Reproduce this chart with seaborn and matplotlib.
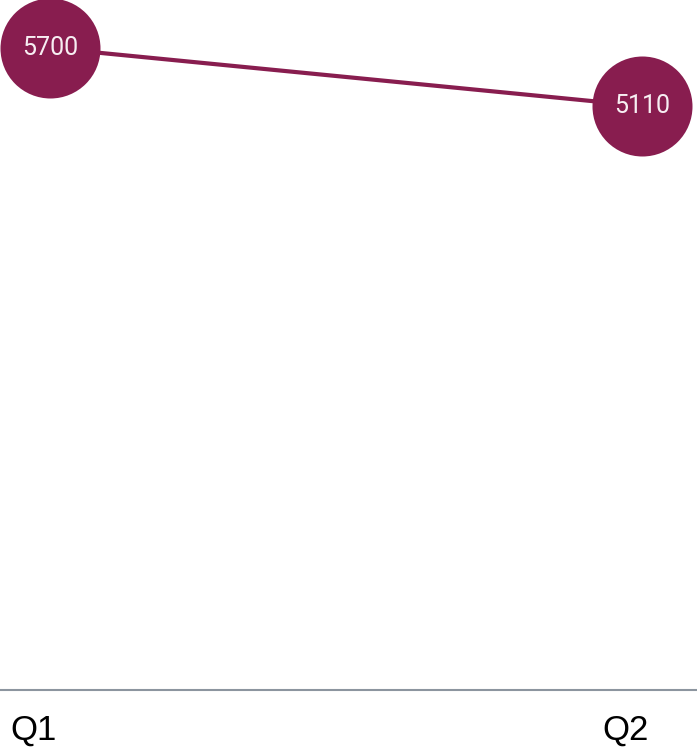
import matplotlib.pyplot as plt
import matplotlib.transforms as mtransforms
import seaborn as sns
import pandas as pd

# chart data
quarters = ['Q1', 'Q2']
values = [5700, 5110]

df = pd.DataFrame({'x': range(len(quarters)), 'value': values})

sns.set_style('white')
plt.rcParams['font.family'] = ['Liberation Sans', 'DejaVu Sans']

color = '#881d4f'

fig = plt.figure(figsize=(6.97, 7.5), dpi=100)
ax = fig.add_axes([0, 0.08, 1, 0.92])

sns.lineplot(data=df, x='x', y='value', color=color, linewidth=3, ax=ax, zorder=2)
sns.scatterplot(data=df, x='x', y='value', color=color, s=72 ** 2, linewidth=0,
                ax=ax, zorder=3, clip_on=False)

for x, v in zip(df['x'], df['value']):
    ax.text(x, v, str(v), ha='center', va='center', color='#f7eef2',
            fontsize=18, family=['Roboto', 'DejaVu Sans'], zorder=4)

ax.set_xlim(-0.0845, 1.093)
ax.set_ylim(-831, 6188)

ax.set_xticks(df['x'])
ax.set_xticklabels(quarters, fontsize=25, color='black')
ax.tick_params(axis='x', length=0, pad=17)
offset = mtransforms.ScaledTranslation(-16 / 100, 0, fig.dpi_scale_trans)
for lbl in ax.get_xticklabels():
    lbl.set_transform(lbl.get_transform() + offset)
ax.set_yticks([])
ax.set_xlabel('')
ax.set_ylabel('')

for side in ['top', 'left', 'right']:
    ax.spines[side].set_visible(False)
ax.spines['bottom'].set_color('#8c959f')
ax.spines['bottom'].set_linewidth(1.5)

fig.savefig('out.png', dpi=100)
